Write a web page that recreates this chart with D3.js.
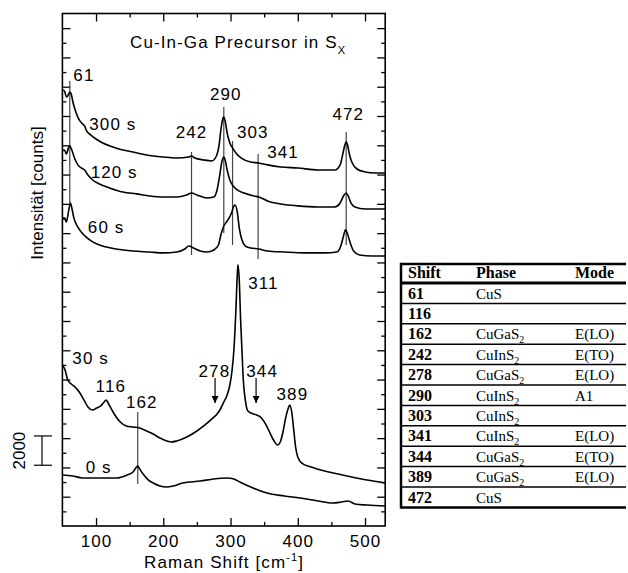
<!DOCTYPE html>
<html>
<head>
<meta charset="utf-8">
<script src="https://cdn.jsdelivr.net/npm/d3@7"></script>
<style>
  body { margin: 0; background: #fff; }
</style>
</head>
<body>
<div id="chart"></div>
<script>
// ---------- spectra: [Raman shift (cm-1), intensity (counts, offset stacked)] ----------
const spec300 = [[50,29780],[53,29710],[56,29300],[58,29370],[61,29640],[63,29510],[66,28890],[70,28280],
  [75,27730],[80,27460],[83,27320],[86,26980],[92,26710],[100,26430],[110,26160],[125,25890],[140,25680],
  [155,25540],[175,25340],[200,25200],[220,25130],[238,25200],[242,25270],[247,25130],[260,25000],[272,24930],
  [279,25270],[283,26020],[286,27180],[289,27870],[290,27930],[292,27660],[295,26840],[299,26160],[303,25820],
  [308,25480],[316,25130],[330,24860],[342,24790],[355,24660],[375,24520],[400,24450],[430,24310],[455,24310],
  [463,24660],[467,25410],[470,26020],[472,26230],[474,26020],[477,25340],[481,24790],[488,24380],[500,24180],
  [515,24110],[530,24110]];

const spec120 = [[50,25610],[53,25680],[56,25410],[59,25820],[61,25950],[64,25680],[68,25130],[73,24660],
  [78,24450],[83,24310],[88,23970],[95,23630],[105,23360],[120,23090],[140,22810],[160,22680],[180,22540],
  [200,22470],[220,22470],[235,22610],[242,22740],[250,22610],[265,22400],[275,22470],[280,22950],[284,23970],
  [287,24860],[290,25200],[292,25000],[295,24310],[299,23630],[304,23220],[310,22950],[320,22740],[335,22540],
  [342,22470],[355,22200],[375,21990],[400,21860],[430,21790],[455,21790],[463,22060],[468,22540],[472,22740],
  [475,22540],[479,22060],[485,21790],[500,21650],[530,21650]];

const spec60 = [[50,20970],[53,21040],[56,20760],[59,21450],[62,22060],[64,21720],[67,21040],[72,20490],
  [78,20080],[85,19740],[95,19400],[110,19120],[130,18920],[155,18780],[180,18710],[200,18650],[220,18710],
  [232,18920],[238,19120],[245,18990],[255,18780],[265,18710],[275,18850],[282,19190],[286,19940],[290,20490],
  [294,20760],[298,21040],[302,21450],[305,21860],[307,21920],[310,21450],[313,20350],[317,19530],[322,19120],
  [330,18990],[342,18920],[355,18780],[380,18710],[410,18650],[440,18650],[458,18710],[464,19120],[468,19810],
  [471,20220],[474,19940],[478,19330],[483,18780],[492,18510],[510,18440],[530,18440]];

const spec30 = [[50,11000],[54,10650],[58,9970],[65,9630],[70,9430],[76,9080],[82,8610],[88,8130],[95,7920],
  [101,8060],[107,8200],[112,8470],[115,8610],[118,8400],[122,8060],[128,7580],[136,7100],[145,6830],[155,6760],
  [165,6690],[175,6490],[185,6280],[195,6010],[205,5810],[212,5740],[220,5810],[235,6080],[250,6490],[262,6900],
  [274,7380],[280,7650],[285,7990],[290,8470],[295,8950],[299,9630],[302,10520],[305,12020],[308,14750],
  [310,17140],[311,17830],[313,16800],[315,14070],[317,12020],[319,9970],[322,8610],[325,7920],[330,7720],
  [339,7580],[346,7380],[352,6970],[358,6420],[364,5870],[370,5530],[374,5740],[378,6420],[382,7380],[386,8060],
  [388,8260],[391,7790],[394,6560],[397,5330],[400,4710],[406,4300],[420,4030],[440,3760],[460,3550],[480,3350],
  [503,3140],[530,2940]];

const spec0 = [[50,3480],[65,3420],[80,3280],[106,3280],[131,3280],[146,3480],[155,3690],[159,3960],[162,4100],
  [165,3890],[170,3550],[178,3140],[185,2940],[195,2730],[205,2660],[215,2730],[229,2940],[255,3070],[275,3210],
  [295,3280],[305,3210],[314,3010],[330,2660],[354,2250],[380,2050],[403,1910],[430,1710],[452,1570],[465,1640],
  [475,1710],[485,1500],[503,1430],[530,1370]];

const spectra = [spec300, spec120, spec60, spec30, spec0];

// ---------- annotations ----------
const timeLabels = [["300 s",125,27050],["120 s",127,23770],["60 s",115,20010],["30 s",92,11060],["0 s",104,3620]];
const peakLabels = [["61",82,30390],["290",293,29100],["242",242,26500],["303",333,26500],["341",378,25130],
  ["472",475,27730],["311",349,16190],["278",276,10180],["344",347,10180],["389",392,8610],["116",122,9150],
  ["162",168,8060]];
// [shift, bottom counts, top counts]
const markLines = [[61,22060,30390],[242,18510,25540],[290,20010,28620],[303,19190,26300],
  [341,18240,25410],[472,19190,26910],[162,2870,7790]];
const arrows = [[277,10110,8400],[338,10110,8400]];
const scaleBar = [4150, 6150];

const xMajor = [100, 200, 300, 400, 500];
const xMinor = [150, 250, 350, 450];

// ---------- table ----------
const tblHeader = ["Shift", "Phase", "Mode"];
const tblShift = ["61","116","162","242","278","290","303","341","344","389","472"];
const tblPhase = ["CuS","","CuGaS2","CuInS2","CuGaS2","CuInS2","CuInS2","CuInS2","CuGaS2","CuGaS2","CuS"];
const tblMode = ["","","E(LO)","E(TO)","E(LO)","A1","","E(LO)","E(TO)","E(LO)",""];

const W = 628, H = 573;
const sans = "'Liberation Sans', Arial, sans-serif";
const serif = "'Liberation Serif', 'Times New Roman', serif";
const svg = d3.select("#chart").append("svg").attr("width", W).attr("height", H)
  .attr("font-family", sans);

const x = d3.scaleLinear().domain([50, 530]).range([62.4, 385.2]);
const y = d3.scaleLinear().domain([0, 35000]).range([526, 13.5]);
const yTicks = d3.range(1000, 35000, 1000);

// =====================================================
// AXES (ticks inside on all four sides)
// =====================================================
function tickAxis(axis, vals, size, pos) {
  const g = svg.append("g").attr("transform", pos)
    .call(axis.tickValues(vals).tickSize(size).tickFormat(""));
  g.select(".domain").remove();
  g.selectAll("line").attr("stroke", "#000").attr("stroke-width", 1.3);
  return g;
}
tickAxis(d3.axisBottom(x), xMinor, -4, `translate(0,${y(0)})`);
tickAxis(d3.axisTop(x), xMinor, -4, `translate(0,${y(35000)})`);
tickAxis(d3.axisTop(x), xMajor, -8, `translate(0,${y(35000)})`);
tickAxis(d3.axisLeft(y), yTicks.filter(d => d % 2000), -4, `translate(${x(50)},0)`);
tickAxis(d3.axisLeft(y), yTicks.filter(d => !(d % 2000)), -8, `translate(${x(50)},0)`);
tickAxis(d3.axisRight(y), yTicks.filter(d => d % 2000), -4, `translate(${x(530)},0)`);
tickAxis(d3.axisRight(y), yTicks.filter(d => !(d % 2000)), -8, `translate(${x(530)},0)`);

const xAx = svg.append("g").attr("transform", `translate(0,${y(0)})`)
  .call(d3.axisBottom(x).tickValues(xMajor).tickSize(-8).tickPadding(9));
xAx.select(".domain").remove();
xAx.selectAll("line").attr("stroke", "#000").attr("stroke-width", 1.3);
xAx.selectAll("text").attr("font-size", 17).attr("letter-spacing", "1.1px")
  .attr("font-family", sans).attr("fill", "#000");

svg.append("rect")
  .attr("x", x(50)).attr("y", y(35000))
  .attr("width", x(530) - x(50)).attr("height", y(0) - y(35000))
  .attr("fill", "none").attr("stroke", "#000").attr("stroke-width", 1.6);

// axis titles
const xt = svg.append("text").attr("x", 224).attr("y", 568).attr("text-anchor", "middle")
  .attr("font-size", 17).attr("letter-spacing", "1.1px");
xt.append("tspan").text("Raman Shift [cm");
xt.append("tspan").attr("font-size", 11).attr("dy", -7).text("-1");
xt.append("tspan").attr("dy", 7).text("]");

svg.append("text")
  .attr("transform", `translate(43,${193}) rotate(-90)`)
  .attr("text-anchor", "middle").attr("font-size", 17)
  .text("Intensität [counts]");

const ttl = svg.append("text").attr("x", 130).attr("y", 48)
  .attr("font-size", 17).attr("letter-spacing", "1.1px");
ttl.append("tspan").text("Cu-In-Ga Precursor in S");
ttl.append("tspan").attr("font-size", 11).attr("dy", 6).text("X");

// scale bar 2000 counts
const sb = svg.append("g").attr("stroke", "#000").attr("stroke-width", 1.2);
sb.append("line").attr("x1", 42).attr("x2", 42).attr("y1", y(scaleBar[0])).attr("y2", y(scaleBar[1]));
scaleBar.forEach(v => sb.append("line").attr("x1", 34).attr("x2", 52).attr("y1", y(v)).attr("y2", y(v)));
svg.append("text")
  .attr("transform", `translate(25,${(y(scaleBar[0]) + y(scaleBar[1])) / 2}) rotate(-90)`)
  .attr("text-anchor", "middle").attr("font-size", 17).text("2000");

// =====================================================
// MARKER LINES + SPECTRA
// =====================================================
svg.append("g").selectAll("line").data(markLines).join("line")
  .attr("x1", d => x(d[0])).attr("x2", d => x(d[0]))
  .attr("y1", d => y(d[1])).attr("y2", d => y(d[2]))
  .attr("stroke", "#444").attr("stroke-width", 1.2);

const line = d3.line().x(d => x(d[0])).y(d => y(d[1])).curve(d3.curveMonotoneX);
svg.append("g").selectAll("path").data(spectra).join("path")
  .attr("d", line).attr("fill", "none").attr("stroke", "#000")
  .attr("stroke-width", 1.6).attr("stroke-linejoin", "round");

// arrows
svg.append("defs").append("marker")
  .attr("id", "ah").attr("viewBox", "0 0 10 10").attr("refX", 10).attr("refY", 5)
  .attr("markerWidth", 7).attr("markerHeight", 7).attr("markerUnits", "userSpaceOnUse")
  .attr("orient", "auto")
  .append("path").attr("d", "M0,0L10,5L0,10Z").attr("fill", "#000");
svg.append("g").selectAll("line").data(arrows).join("line")
  .attr("x1", d => x(d[0])).attr("x2", d => x(d[0]))
  .attr("y1", d => y(d[1])).attr("y2", d => y(d[2]))
  .attr("stroke", "#000").attr("stroke-width", 1.2).attr("marker-end", "url(#ah)");

// labels
svg.append("g").selectAll("text").data(peakLabels.concat(timeLabels)).join("text")
  .attr("x", d => x(d[1])).attr("y", d => y(d[2]))
  .attr("text-anchor", "middle").attr("font-size", 17).attr("letter-spacing", "1.1px")
  .text(d => d[0]);

// =====================================================
// TABLE
// =====================================================
const tL = 401, tR = 626, tTop = 264, tHead = 283, rowH = 20.4;
const colX = [408, 476, 575];
const tb = svg.append("g").attr("font-family", serif).attr("font-size", 15);
const tBottom = tHead + rowH * tblShift.length;

tb.append("line").attr("x1", tL).attr("x2", tR).attr("y1", tTop).attr("y2", tTop)
  .attr("stroke", "#000").attr("stroke-width", 2.5);
tb.append("line").attr("x1", tL).attr("x2", tR).attr("y1", tHead).attr("y2", tHead)
  .attr("stroke", "#000").attr("stroke-width", 3);
tb.selectAll("line.row").data(d3.range(1, tblShift.length)).join("line").attr("class", "row")
  .attr("x1", tL).attr("x2", tR)
  .attr("y1", i => tHead + rowH * i).attr("y2", i => tHead + rowH * i)
  .attr("stroke", "#000").attr("stroke-width", 1.5);
tb.append("line").attr("x1", tL).attr("x2", tR).attr("y1", tBottom).attr("y2", tBottom)
  .attr("stroke", "#000").attr("stroke-width", 2.5);
tb.append("line").attr("x1", tL).attr("x2", tL).attr("y1", tTop - 1.2).attr("y2", tBottom + 1.2)
  .attr("stroke", "#000").attr("stroke-width", 2.5);

tb.selectAll("text.hd").data(tblHeader).join("text").attr("class", "hd")
  .attr("x", (d, i) => colX[i]).attr("y", tTop + 14)
  .attr("font-weight", "bold").attr("font-size", 16)
  .text(d => d);

tblShift.forEach((s, i) => {
  const by = tHead + rowH * i + 15.5;
  tb.append("text").attr("x", colX[0]).attr("y", by)
    .attr("font-weight", "bold").attr("font-size", 16).text(s);
  const ph = tblPhase[i];
  if (ph) {
    const t = tb.append("text").attr("x", colX[1]).attr("y", by);
    const m = ph.match(/^(.*?)(\d*)$/);
    t.append("tspan").text(m[1]);
    if (m[2]) t.append("tspan").attr("font-size", 10).attr("dy", 4).text(m[2]);
  }
  if (tblMode[i]) {
    tb.append("text").attr("x", colX[2]).attr("y", by).text(tblMode[i]);
  }
});
</script>
</body>
</html>
